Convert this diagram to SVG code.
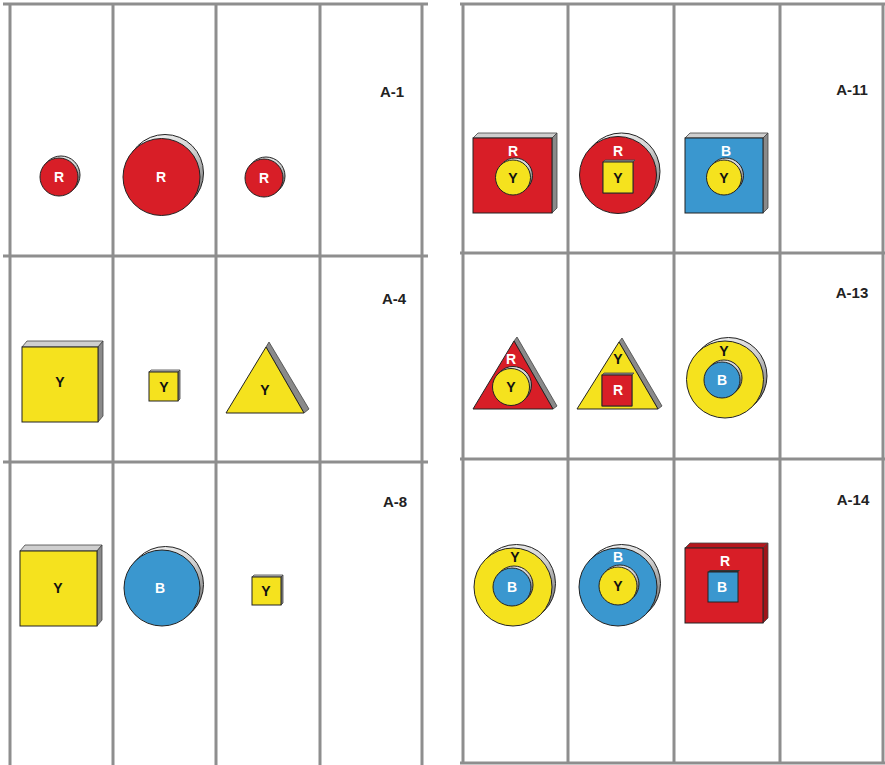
<svg xmlns="http://www.w3.org/2000/svg" width="885" height="765" viewBox="0 0 885 765">
<style>
.grid line{stroke:#8e8e8e;stroke-width:3}
.r{fill:#d81e27}.y{fill:#f5e21e}.b{fill:#3a97cf}
.o{stroke:#222;stroke-width:1}
.top{fill:#cfcfcf;stroke:#444;stroke-width:0.8}
.side{fill:#8a8a8a;stroke:#444;stroke-width:0.8}
.rim{fill:url(#rimg);stroke:#222;stroke-width:1}
.t{font-family:"Liberation Sans",Arial,sans-serif;font-weight:bold;font-size:14px;text-anchor:middle}
.w{fill:#fff}.k{fill:#111}
.lab{font-family:"Liberation Sans",Arial,sans-serif;font-weight:bold;font-size:15px;fill:#222;text-anchor:middle}
</style>
<defs>
<linearGradient id="rimg" x1="0" y1="0" x2="1" y2="1">
<stop offset="0" stop-color="#ffffff"/>
<stop offset="0.55" stop-color="#d0d0d0"/>
<stop offset="1" stop-color="#5a5a5a"/>
</linearGradient>
</defs>
<rect width="885" height="765" fill="#fff"/>
<g class="grid" id="grid">
<line x1="3" y1="4" x2="428" y2="4"/>
<line x1="3" y1="256" x2="428" y2="256"/>
<line x1="3" y1="462" x2="428" y2="462"/>
<line x1="10" y1="4" x2="10" y2="765"/>
<line x1="113" y1="4" x2="113" y2="765"/>
<line x1="216" y1="4" x2="216" y2="765"/>
<line x1="320" y1="4" x2="320" y2="765"/>
<line x1="422" y1="4" x2="422" y2="765"/>
<line x1="460" y1="4" x2="885" y2="4"/>
<line x1="460" y1="253" x2="885" y2="253"/>
<line x1="460" y1="459" x2="885" y2="459"/>
<line x1="460" y1="763" x2="885" y2="763"/>
<line x1="463" y1="4" x2="463" y2="763"/>
<line x1="568" y1="4" x2="568" y2="763"/>
<line x1="674" y1="4" x2="674" y2="763"/>
<line x1="780" y1="4" x2="780" y2="763"/>
<line x1="883" y1="4" x2="883" y2="763"/>
</g>

<!-- A-1 row -->
<g id="a1-c1">
<circle class="rim" cx="61" cy="175" r="19"/>
<circle class="r o" cx="59" cy="177" r="19"/>
<text class="t w" x="59" y="182">R</text>
</g>
<g id="a1-c2">
<circle class="rim" cx="165" cy="173" r="38.5"/>
<circle class="r o" cx="161.5" cy="177" r="38.5"/>
<text class="t w" x="161" y="182">R</text>
</g>
<g id="a1-c3">
<circle class="rim" cx="266" cy="176" r="19"/>
<circle class="r o" cx="264" cy="178" r="19"/>
<text class="t w" x="264" y="183">R</text>
</g>
<text class="lab" x="392" y="97" id="lab-a1">A-1</text>

<!-- A-4 row -->
<g id="a4-sq1">
<polygon class="top" points="22,347 27,341 103,341 98,347"/>
<polygon class="side" points="98,347 103,341 103,416 98,422"/>
<rect class="y o" x="22" y="347" width="76" height="75"/>
<text class="t k" x="60" y="387">Y</text>
</g>
<g id="a4-sq2">
<polygon class="top" points="149,372 151,370 180,370 178,372"/>
<polygon class="side" points="178,372 180,370 180,399 178,401"/>
<rect class="y o" x="149" y="372" width="29" height="29"/>
<text class="t k" x="164" y="392">Y</text>
</g>
<g id="a4-tri">
<polygon class="side" points="266,347 269,342 309,409 304,413"/>
<polygon class="y o" points="266,347 304,413 226,413"/>
<text class="t k" x="265" y="395">Y</text>
</g>
<text class="lab" x="394" y="304" id="lab-a4">A-4</text>

<!-- A-8 row -->
<g id="a8-sq1">
<polygon class="top" points="20,551 25,545 102,545 97,551"/>
<polygon class="side" points="97,551 102,545 102,620 97,626"/>
<rect class="y o" x="20" y="551" width="77" height="75"/>
<text class="t k" x="58" y="593">Y</text>
</g>
<g id="a8-c">
<circle class="rim" cx="165.5" cy="584.5" r="38"/>
<circle class="b o" cx="162" cy="588" r="38"/>
<text class="t w" x="160" y="593">B</text>
</g>
<g id="a8-sq2">
<polygon class="top" points="252,577 254,575 283,575 281,577"/>
<polygon class="side" points="281,577 283,575 283,603 281,605"/>
<rect class="y o" x="252" y="577" width="29" height="28"/>
<text class="t k" x="266" y="596">Y</text>
</g>
<text class="lab" x="395" y="507" id="lab-a8">A-8</text>

<!-- A-11 row -->
<g id="a11-sq-r">
<polygon class="top" points="473,138 478,133 557,133 552,138"/>
<polygon class="side" points="552,138 557,133 557,208 552,213"/>
<rect class="r o" x="473" y="138" width="79" height="75"/>
<circle class="rim" cx="515" cy="175.5" r="17.5"/>
<circle class="y o" cx="513" cy="177.5" r="17.5"/>
<text class="t w" x="513" y="156">R</text>
<text class="t k" x="513" y="182.5">Y</text>
</g>
<g id="a11-c-r">
<circle class="rim" cx="621.5" cy="171.5" r="38.5"/>
<circle class="r o" cx="618" cy="175" r="38.5"/>
<polygon class="side" points="603,162 605,160 635,160 633,162 633,193 603,193"/>
<rect class="y o" x="603" y="162" width="30" height="31"/>
<text class="t w" x="618" y="156">R</text>
<text class="t k" x="618" y="183">Y</text>
</g>
<g id="a11-sq-b">
<polygon class="top" points="685,138 690,133 768,133 763,138"/>
<polygon class="side" points="763,138 768,133 768,208 763,213"/>
<rect class="b o" x="685" y="138" width="78" height="75"/>
<circle class="rim" cx="726" cy="175.5" r="17.5"/>
<circle class="y o" cx="724" cy="177.5" r="17.5"/>
<text class="t w" x="726" y="156">B</text>
<text class="t k" x="724" y="182.5">Y</text>
</g>
<text class="lab" x="852" y="95" id="lab-a11">A-11</text>

<!-- A-13 row -->
<g id="a13-tri-r">
<polygon class="side" points="514,341 517,337 557,406 553,409"/>
<polygon class="r o" points="514,341 553,409 473,409"/>
<circle class="rim" cx="513" cy="385" r="18.5"/>
<circle class="y o" cx="511" cy="387" r="18.5"/>
<text class="t w" x="511" y="364">R</text>
<text class="t k" x="511" y="392">Y</text>
</g>
<g id="a13-tri-y">
<polygon class="side" points="619,342 622,338 662,406 658,409"/>
<polygon class="y o" points="619,342 658,409 577,409"/>
<polygon class="side" points="602,375 604,373 634,373 632,375 632,406 602,406"/>
<rect class="r o" x="602" y="375" width="30" height="31"/>
<text class="t k" x="618" y="364">Y</text>
<text class="t w" x="618" y="395">R</text>
</g>
<g id="a13-ring">
<circle class="rim" cx="728.5" cy="376" r="38.5"/>
<circle class="y o" cx="725" cy="379.5" r="38.5"/>
<circle class="rim" cx="724" cy="378" r="18"/>
<circle class="b o" cx="722" cy="380" r="18"/>
<text class="t k" x="724" y="356">Y</text>
<text class="t w" x="722" y="385">B</text>
</g>
<text class="lab" x="852" y="298" id="lab-a13">A-13</text>

<!-- A-14 row -->
<g id="a14-ring-y">
<circle class="rim" cx="516.5" cy="583.5" r="39"/>
<circle class="y o" cx="513" cy="587" r="39"/>
<circle class="rim" cx="514" cy="585" r="19"/>
<circle class="b o" cx="512" cy="587" r="19"/>
<text class="t k" x="515" y="562">Y</text>
<text class="t w" x="512" y="592">B</text>
</g>
<g id="a14-ring-b">
<circle class="rim" cx="621.5" cy="583.5" r="39"/>
<circle class="b o" cx="618" cy="587" r="39"/>
<circle class="rim" cx="620" cy="584" r="19"/>
<circle class="y o" cx="618" cy="586" r="19"/>
<text class="t w" x="618" y="562">B</text>
<text class="t k" x="618" y="591">Y</text>
</g>
<g id="a14-sq-r">
<polygon fill="#b5161d" stroke="#444" stroke-width="0.8" points="685,548 690,543 768,543 763,548"/>
<polygon fill="#a0141a" stroke="#444" stroke-width="0.8" points="763,548 768,543 768,618 763,623"/>
<rect class="r o" x="685" y="548" width="78" height="75"/>
<polygon fill="#333" points="708,572 710,570 740,570 738,572 738,602 708,602"/>
<rect class="b o" x="708" y="572" width="30" height="30"/>
<text class="t w" x="725" y="566">R</text>
<text class="t w" x="722" y="592">B</text>
</g>
<text class="lab" x="853" y="505" id="lab-a14">A-14</text>
</svg>
